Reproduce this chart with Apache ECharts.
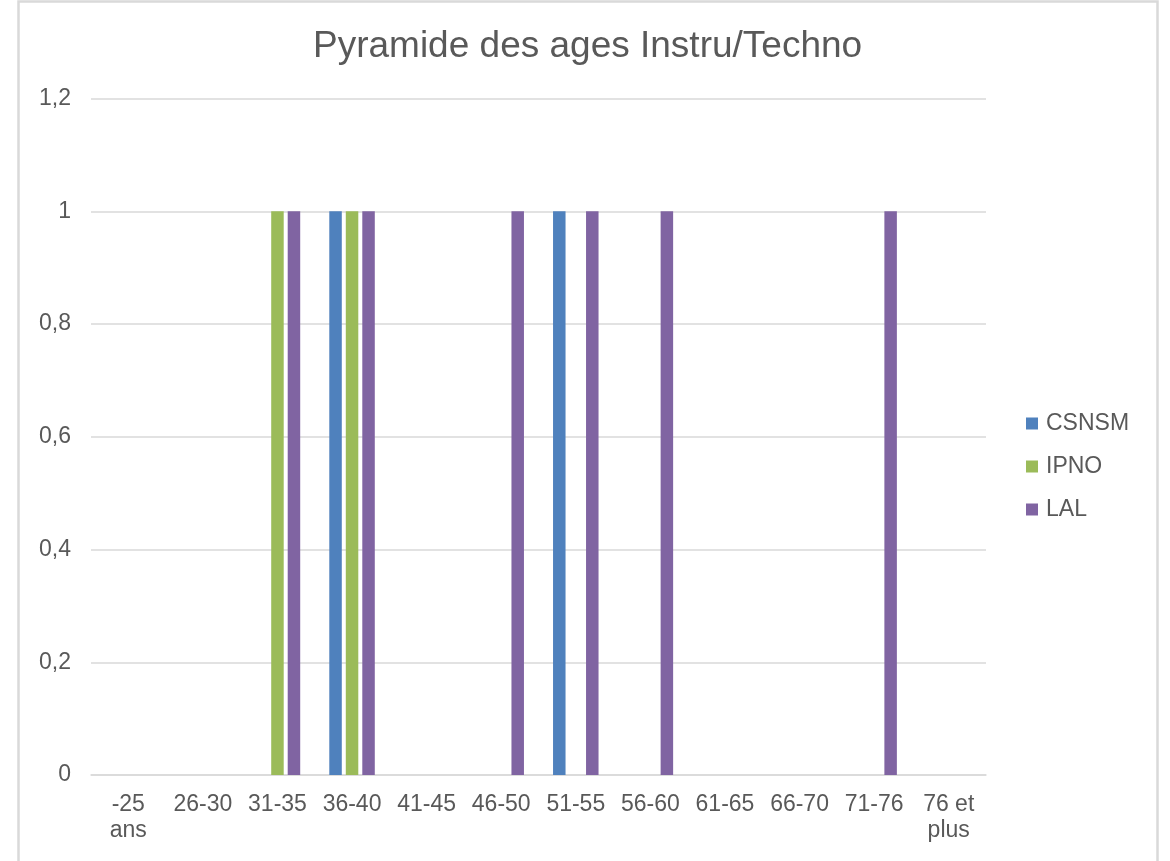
<!DOCTYPE html>
<html>
<head>
<meta charset="utf-8">
<title>Pyramide des ages Instru/Techno</title>
<script src="https://cdn.jsdelivr.net/npm/echarts@6/dist/echarts.min.js"></script>
<style>
  html, body { margin: 0; padding: 0; background: #ffffff; }
  #chart { width: 1170px; height: 861px; }
</style>
</head>
<body>
<div id="chart"></div>
<script>
// Age brackets on the category axis
const categories = ['-25\nans', '26-30', '31-35', '36-40', '41-45', '46-50', '51-55', '56-60', '61-65', '66-70', '71-76', '76 et\nplus'];

// Head counts per lab and age bracket
const csnsm = [0, 0, 0, 1, 0, 0, 1, 0, 0, 0, 0, 0];
const ipno  = [0, 0, 1, 1, 0, 0, 0, 0, 0, 0, 0, 0];
const lal   = [0, 0, 1, 1, 0, 1, 1, 1, 0, 0, 1, 0];

// Value axis ticks
const yTicks = [0, 0.2, 0.4, 0.6, 0.8, 1, 1.2];

const FONT = '"Liberation Sans", Arial, sans-serif';
const TEXT = '#595959';
const GRID = '#d9d9d9';

const chart = echarts.init(document.getElementById('chart'), null, { renderer: 'canvas' });

function barSeries(name, data, color) {
  return {
    name: name,
    type: 'bar',
    data: data,
    barWidth: 12.5,
    barGap: '32%',
    itemStyle: { color: color },
    emphasis: { disabled: true }
  };
}

chart.setOption({
  animation: false,
  backgroundColor: '#ffffff',
  graphic: [{
    type: 'rect',
    shape: { x: 18.5, y: 1.5, width: 1139, height: 900 },
    style: { fill: 'none', stroke: GRID, lineWidth: 2.5 },
    silent: true
  }],
  title: {
    text: 'Pyramide des ages Instru/Techno',
    left: 313,
    top: 28,
    padding: 0,
    textStyle: { fontFamily: FONT, fontSize: 37, fontWeight: 'normal', color: TEXT }
  },
  legend: {
    orient: 'vertical',
    left: 1026,
    top: 412,
    padding: 0,
    itemWidth: 12,
    itemHeight: 12,
    itemGap: 20,
    icon: 'rect',
    textStyle: { fontFamily: FONT, fontSize: 23, color: TEXT, lineHeight: 23, padding: [0, 0, 0, 3] },
    data: ['CSNSM', 'IPNO', 'LAL']
  },
  grid: { left: 91, right: 184, top: 98.5, bottom: 86, containLabel: false },
  xAxis: {
    type: 'category',
    data: categories,
    axisLine: { show: true, lineStyle: { color: GRID, width: 1.5 } },
    axisTick: { show: false },
    axisLabel: {
      interval: 0,
      margin: 17,
      fontFamily: FONT,
      fontSize: 23,
      lineHeight: 26,
      color: TEXT
    }
  },
  yAxis: {
    type: 'value',
    min: yTicks[0],
    max: yTicks[yTicks.length - 1],
    interval: 0.2,
    axisLine: { show: false },
    axisTick: { show: false },
    splitLine: { lineStyle: { color: GRID, width: 1.5 } },
    axisLabel: {
      margin: 20,
      fontFamily: FONT,
      fontSize: 23,
      color: TEXT,
      formatter: function (v) {
        return String(Math.round(v * 10) / 10).replace('.', ',');
      }
    }
  },
  series: [
    barSeries('CSNSM', csnsm, '#4f81bd'),
    barSeries('IPNO', ipno, '#9bbb59'),
    barSeries('LAL', lal, '#8064a2')
  ]
});
</script>
</body>
</html>
